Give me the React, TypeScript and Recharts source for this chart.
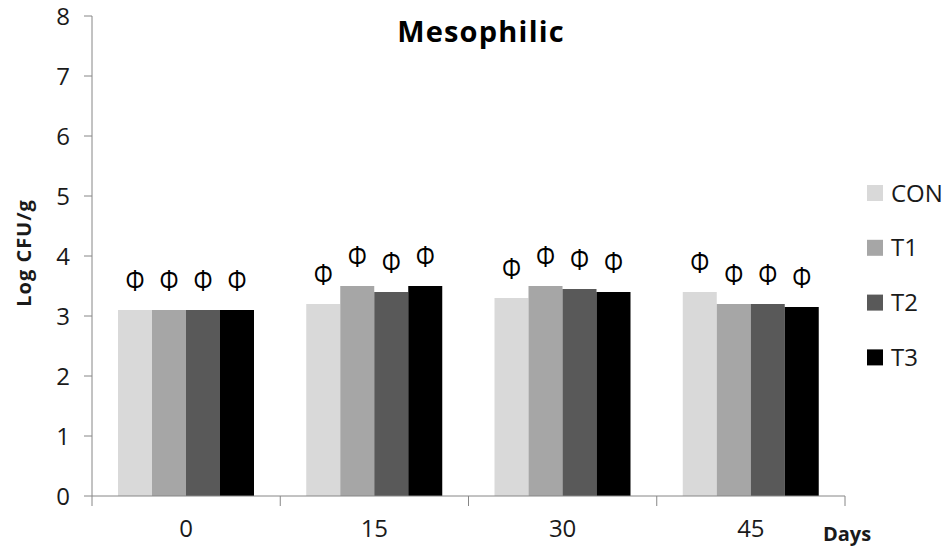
import React from 'react';
import { BarChart, Bar, XAxis, YAxis, LabelList, Label } from 'recharts';

// Sampling days (x categories)
const days = ['0', '15', '30', '45'];

// Mesophilic counts, Log CFU/g, per treatment
const conValues = [3.1, 3.2, 3.3, 3.4];
const t1Values = [3.1, 3.5, 3.5, 3.2];
const t2Values = [3.1, 3.4, 3.45, 3.2];
const t3Values = [3.1, 3.5, 3.4, 3.15];

const seriesNames = ['CON', 'T1', 'T2', 'T3'];
const seriesColors = ['#d9d9d9', '#a6a6a6', '#595959', '#000000'];
const yTicks = [0, 1, 2, 3, 4, 5, 6, 7, 8];
const markSymbol = 'Φ';

const seriesValues = [conValues, t1Values, t2Values, t3Values];
const data = days.map((day, i) => {
  const row: Record<string, string | number> = { day };
  seriesNames.forEach((name, s) => {
    row[name] = seriesValues[s][i];
  });
  return row;
});

const FONT = '"Open Sans", "Liberation Sans", sans-serif';
const AXIS_COLOR = '#868686';
const TEXT_COLOR = '#1a1a1a';

const W = 952;
const H = 553;

// Category label centred under each group, with tick marks on the group boundaries
const DayTick = (props: any) => {
  const { x, y, payload, index } = props;
  const half = typeof payload.offset === 'number' ? payload.offset : 94;
  const isLast = index === days.length - 1;
  return (
    <g>
      <line x1={x - half} x2={x - half} y1={y - 10} y2={y} stroke={AXIS_COLOR} strokeWidth={1} />
      {isLast && (
        <line x1={x + half} x2={x + half} y1={y - 10} y2={y} stroke={AXIS_COLOR} strokeWidth={1} />
      )}
      <text x={x} y={y + 31} textAnchor="middle" fontFamily={FONT} fontSize={24} fill={TEXT_COLOR}>
        {payload.value}
      </text>
    </g>
  );
};

// Significance mark drawn a fixed distance above each bar
const MarkLabel = (props: any) => {
  const { x, y, width } = props;
  const cx = x + width / 2;
  const cy = y - 30;
  return (
    <text
      x={cx}
      y={cy}
      textAnchor="middle"
      dominantBaseline="central"
      fontFamily={FONT}
      fontSize={24}
      transform={`translate(${cx}, ${cy}) scale(1, 1.2) translate(${-cx}, ${-cy})`}
      fill="#000"
    >
      {markSymbol}
    </text>
  );
};

const legendTop = 193;
const legendStep = 54.8;

export default function App() {
  return (
    <div style={{ position: 'absolute', left: 0, top: 0, width: W, height: H, background: '#fff' }}>
      <BarChart
        width={W}
        height={H}
        data={data}
        margin={{ top: 16, right: 107, bottom: 0, left: 0 }}
        barCategoryGap={26}
        barGap={0}
      >
        <XAxis
          dataKey="day"
          height={57}
          axisLine={{ stroke: AXIS_COLOR, strokeWidth: 1 }}
          tickLine={false}
          tickSize={10}
          tickMargin={0}
          tick={<DayTick />}
          interval={0}
        >
          <Label
            content={(p: any) => {
              const vb = p.viewBox || {};
              return (
                <text
                  x={vb.x + vb.width + 2}
                  y={vb.y + 45}
                  textAnchor="middle"
                  fontFamily={FONT}
                  fontWeight="bold"
                  fontSize={20}
                  fill={TEXT_COLOR}
                >
                  Days
                </text>
              );
            }}
          />
        </XAxis>
        <YAxis
          width={92}
          domain={[0, 8]}
          ticks={yTicks}
          interval={0}
          axisLine={{ stroke: AXIS_COLOR, strokeWidth: 1 }}
          tickLine={{ stroke: AXIS_COLOR, strokeWidth: 1 }}
          tickSize={8}
          tickMargin={14}
          tick={{ fontFamily: FONT, fontSize: 24, fill: TEXT_COLOR }}
        >
          <Label
            content={(p: any) => {
              const vb = p.viewBox || {};
              const cx = vb.x + 23;
              const cy = vb.y + vb.height / 2 - 3;
              return (
                <text
                  x={cx}
                  y={cy}
                  transform={`rotate(-90, ${cx}, ${cy})`}
                  textAnchor="middle"
                  dominantBaseline="central"
                  fontFamily={FONT}
                  fontWeight="bold"
                  fontSize={20}
                  letterSpacing={1}
                  fill={TEXT_COLOR}
                >
                  Log CFU/g
                </text>
              );
            }}
          />
        </YAxis>
        {seriesNames.map((name, s) => (
          <Bar key={name} dataKey={name} fill={seriesColors[s]} isAnimationActive={false}>
            <LabelList dataKey={name} content={<MarkLabel />} />
          </Bar>
        ))}
      </BarChart>
      <svg
        width={W}
        height={H}
        style={{ position: 'absolute', left: 0, top: 0, pointerEvents: 'none' }}
      >
        <text
          x={481}
          y={42}
          textAnchor="middle"
          fontFamily={FONT}
          fontWeight="bold"
          fontSize={29}
          letterSpacing={1.2}
          fill="#000"
        >
          Mesophilic
        </text>
        {seriesNames.map((name, s) => {
          const cy = legendTop + s * legendStep;
          return (
            <g key={name}>
              <rect x={867} y={cy - 8} width={16} height={16} fill={seriesColors[s]} />
              <text x={891} y={cy + 8.5} fontFamily={FONT} fontSize={24} fill={TEXT_COLOR}>
                {name}
              </text>
            </g>
          );
        })}
      </svg>
    </div>
  );
}
